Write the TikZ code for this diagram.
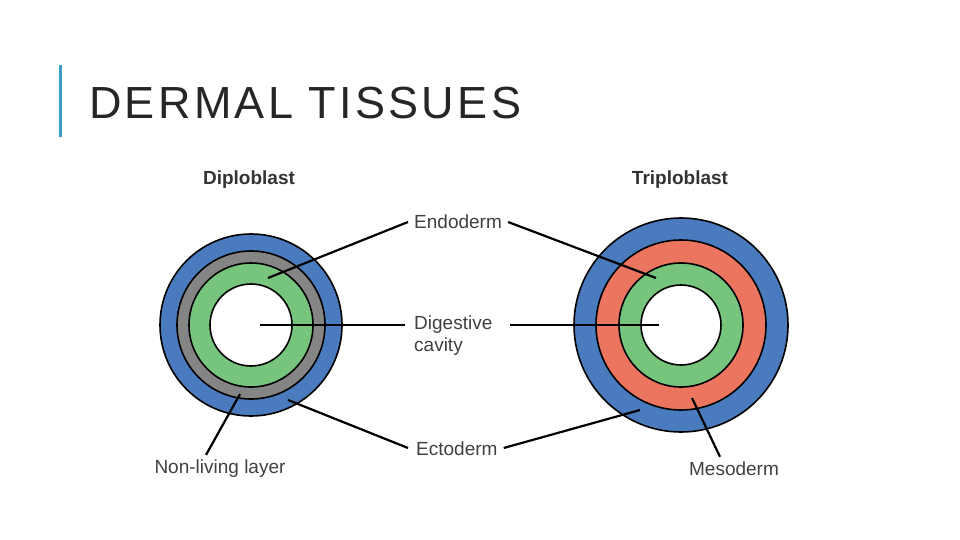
\documentclass[tikz,border=0pt]{standalone}
\usepackage{fontspec}
\setmainfont{Liberation Sans}
\begin{document}
\begin{tikzpicture}[x=1pt,y=-1pt,
  ring/.style={draw=black,line width=1.6pt},
  lead/.style={draw=black,line width=2.2pt},
  lbl/.style={font=\fontsize{19}{22}\selectfont,text=black!75,inner sep=0pt},
  hdr/.style={font=\fontsize{19}{22}\selectfont\bfseries,text=black!80,inner sep=0pt}]
\definecolor{cblue}{HTML}{4A7BBF}
\definecolor{cgreen}{HTML}{77C47C}
\definecolor{cgray}{HTML}{858585}
\definecolor{cred}{HTML}{EC7560}
\definecolor{cbar}{HTML}{3A9AD0}
\useasboundingbox (0,0) rectangle (960,540);
\fill[cbar] (59,65) rectangle (62,137);
\node[anchor=base west,inner sep=0pt,font=\fontsize{45}{50}\selectfont,text=black!85] (title) at (89,119) {D\kern3.3ptE\kern3.3ptR\kern3.3ptM\kern3.3ptA\kern3.3ptL\kern3pt\ T\kern3.3ptI\kern3.3ptS\kern3.3ptS\kern3.3ptU\kern3.3ptE\kern3.3ptS};
% diploblast
\coordinate (dc) at (251,325);
\fill[cblue,ring] (dc) circle (91);
\fill[cgray,ring] (dc) circle (74);
\fill[cgreen,ring] (dc) circle (62);
\fill[white,ring] (dc) circle (41);
% triploblast
\coordinate (tc) at (681,325);
\fill[cblue,ring] (tc) circle (107);
\fill[cred,ring] (tc) circle (85);
\fill[cgreen,ring] (tc) circle (62);
\fill[white,ring] (tc) circle (40);
\node[hdr] (hd) at (249,180) {Diploblast};
\node[hdr] (ht) at (680,180) {Triploblast};
\node[lbl,anchor=west] (endo) at (414,222) {Endoderm};
\node[lbl,anchor=north west,align=left] (dig) at (414,316) {Digestive\\cavity};
\node[lbl,anchor=west] (ecto) at (416,449) {Ectoderm};
\node[lbl] (nonl) at (220,469) {Non-living layer};
\node[lbl] (meso) at (734,469) {Mesoderm};
\coordinate (e1) at (268,278); \coordinate (e2) at (656,278);
\coordinate (d1) at (260,325); \coordinate (d2) at (659,325);
\coordinate (c1) at (288,400); \coordinate (c2) at (640,410);
\coordinate (n1) at (240,394); \coordinate (m1) at (692,398);
\draw[lead] (endo.west) ++(-6,0) -- (e1);
\draw[lead] (endo.east) ++(6,0) -- (e2);
\draw[lead] (405,325) -- (d1);
\draw[lead] (510,325) -- (d2);
\draw[lead] (ecto.west) ++(-8,-1) -- (c1);
\draw[lead] (ecto.east) ++(6,-1) -- (c2);
\draw[lead] (nonl.north) ++(-14,-5) -- (n1);
\draw[lead] (meso.north) ++(-14,-5) -- (m1);
\end{tikzpicture}
\end{document}
